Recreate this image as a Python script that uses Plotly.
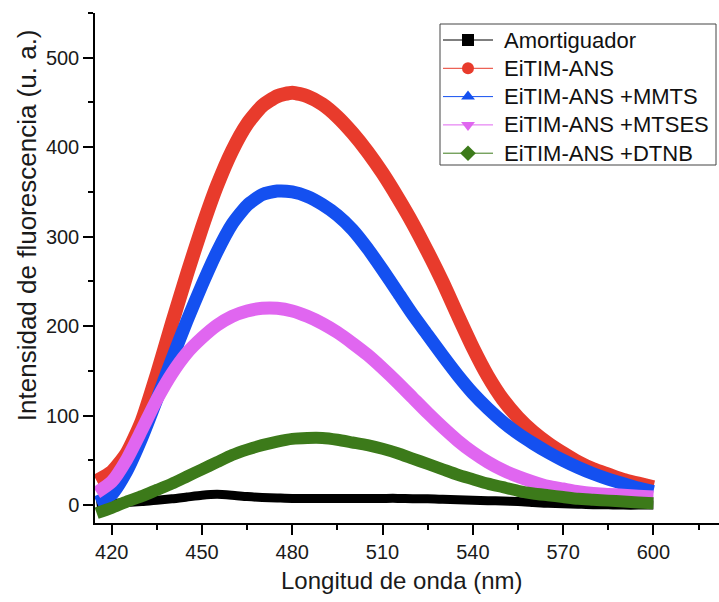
import plotly.graph_objects as go

wavelength = [415, 420, 425, 430, 435, 440, 445, 450, 455, 460, 465, 470, 475, 480,
              485, 490, 495, 500, 505, 510, 515, 520, 525, 530, 535, 540, 545, 550,
              555, 560, 565, 570, 575, 580, 585, 590, 595, 600]

amortiguador = [0, 2, 3, 4, 5.5, 7, 9, 11, 12, 11, 9.5, 8.5, 8, 7.5,
                7.5, 7.5, 7.5, 7.5, 7.5, 7.5, 7.5, 7, 7, 6.5, 6, 5.5, 5, 4.5,
                4, 3, 2, 1.5, 1, 0.5, 0.5, 0, 0, 0]

eitim_ans = [27, 37, 58, 94, 146, 203, 258, 310, 357, 396, 426, 446, 457, 461,
             457, 448, 434, 416, 395, 371, 344, 315, 283, 249, 212, 176, 144, 118,
             98, 82, 69, 58, 48, 40, 34, 28, 24, 20]

eitim_mmts = [3, 12, 38, 75, 118, 163, 206, 246, 283, 314, 335, 347, 351, 350,
              345, 336, 324, 308, 287, 263, 238, 213, 190, 167, 145, 125, 108, 93,
              80, 69, 59, 50, 42, 35, 29, 24, 19, 15]

eitim_mtses = [14, 26, 51, 84, 118, 147, 170, 187, 201, 211, 217, 220, 220, 217,
               211, 203, 193, 181, 168, 153, 137, 120, 103, 87, 72, 59, 48, 39,
               32, 26, 21, 18, 15, 13, 12, 11, 10, 9]

eitim_dtnb = [-9, -3, 4, 10, 17, 24, 32, 40, 48, 56, 62, 67, 71, 74,
              75, 75, 73, 70, 67, 63, 58, 52, 46, 40, 34, 29, 24, 20,
              16, 13, 11, 9, 7, 6, 5, 4, 3, 2]

names = ["Amortiguador", "EiTIM-ANS", "EiTIM-ANS +MMTS", "EiTIM-ANS +MTSES", "EiTIM-ANS +DTNB"]
series = [amortiguador, eitim_ans, eitim_mmts, eitim_mtses, eitim_dtnb]
colors = ["#000000", "#E83B2C", "#1450F0", "#E066F0", "#3C7A1A"]
widths = [9, 14, 13, 13, 12]
symbols = ["square", "circle", "triangle-up", "triangle-down", "diamond"]

W, H = 719, 602
ML, MR, MT, MB = 95, 0, 13, 79
PW, PH = W - ML - MR, H - MT - MB


def px_x(px):
    return (px - ML) / PW


def px_y(py):
    return (H - MB - py) / PH


fig = go.Figure()
for nm, ys, c, w in zip(names, series, colors, widths):
    fig.add_trace(go.Scatter(x=wavelength, y=ys, mode="lines", name=nm,
                             line=dict(color=c, width=w, shape="spline", smoothing=0.6),
                             showlegend=False, hoverinfo="x+y+name"))

# ---- hand-built legend (box, keys, labels) on an overlay axis in paper units ----
leg_left, leg_right, leg_top, leg_bottom = 440, 716, 24, 165
row0, row_step = 40, 28.3
key_x0, key_x1, key_mid, text_x = 443, 493, 468, 502

annotations = []
for i, (nm, c, s) in enumerate(zip(names, colors, symbols)):
    ry = px_y(row0 + i * row_step)
    fig.add_trace(go.Scatter(x=[px_x(key_x0), px_x(key_x1)], y=[ry, ry], mode="lines",
                             line=dict(color=c, width=1), xaxis="x2", yaxis="y2",
                             showlegend=False, hoverinfo="skip"))
    fig.add_trace(go.Scatter(x=[px_x(key_mid)], y=[ry], mode="markers",
                             marker=dict(symbol=s, size=12, color=c), xaxis="x2", yaxis="y2",
                             showlegend=False, hoverinfo="skip"))
    annotations.append(dict(text=nm, xref="paper", yref="paper", x=px_x(text_x), y=ry,
                            xanchor="left", yanchor="middle", showarrow=False,
                            font=dict(size=22, color="#111")))

font = "Liberation Sans, Arial, sans-serif"
annotations += [
    dict(text="Longitud de onda (nm)", xref="paper", yref="paper",
         x=0.492, y=-0.1126, xanchor="center", yanchor="middle",
         showarrow=False, font=dict(size=24, color="#1a1a1a")),
    dict(text="Intensidad de fluorescencia (u. a.)", xref="paper", yref="paper",
         x=0, y=0.584, xshift=-68, xanchor="center", yanchor="middle", textangle=-90,
         showarrow=False, font=dict(size=26, color="#1a1a1a")),
]

fig.update_layout(
    width=W, height=H,
    margin=dict(l=ML, r=MR, t=MT, b=MB),
    paper_bgcolor="white", plot_bgcolor="white",
    font=dict(family=font, size=20, color="#1a1a1a"),
    showlegend=False,
    xaxis=dict(range=[414.45, 621.8], tick0=420, dtick=30, showgrid=False, zeroline=False,
               showline=True, linecolor="black", linewidth=1.5,
               ticks="outside", ticklen=10, tickwidth=1.5, tickcolor="black",
               minor=dict(dtick=15, ticks="outside", ticklen=5, tickwidth=1.5, tickcolor="black"),
               tickfont=dict(size=20)),
    yaxis=dict(range=[-20, 550], tick0=0, dtick=100, showgrid=False, zeroline=False,
               showline=True, linecolor="black", linewidth=1.5,
               ticks="outside", ticklen=10, tickwidth=1.5, tickcolor="black",
               minor=dict(dtick=50, ticks="outside", ticklen=5, tickwidth=1.5, tickcolor="black"),
               tickfont=dict(size=20)),
    xaxis2=dict(overlaying="x", range=[0, 1], visible=False, fixedrange=True),
    yaxis2=dict(overlaying="y", range=[0, 1], visible=False, fixedrange=True),
    shapes=[dict(type="rect", xref="paper", yref="paper",
                 x0=px_x(leg_left), x1=px_x(leg_right), y0=px_y(leg_bottom), y1=px_y(leg_top),
                 line=dict(color="#444", width=1), fillcolor="white", layer="below")],
    annotations=annotations,
)

fig.write_html("out.html")
